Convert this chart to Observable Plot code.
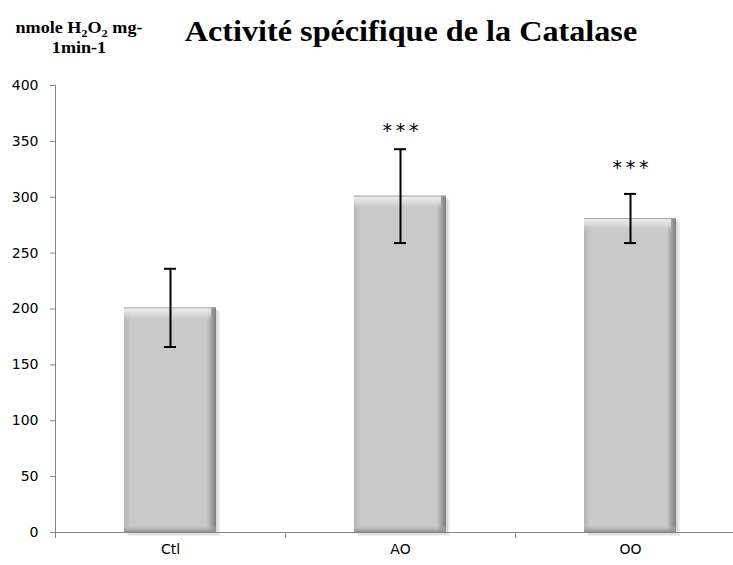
<!DOCTYPE html>
<html><head><meta charset="utf-8">
<script src="https://cdn.jsdelivr.net/npm/d3@7"></script>
<script src="https://cdn.jsdelivr.net/npm/@observablehq/plot@0.6"></script>
<style>
body{margin:0;background:#fff;}
#wrap{position:relative;width:733px;height:565px;overflow:hidden;background:#fff;}
#title{position:absolute;left:411px;top:15px;transform:translateX(-50%) scaleX(1.11);white-space:nowrap;
  font-family:"Liberation Serif","Times New Roman",serif;font-weight:bold;font-size:29px;color:#000;}
#ylab{position:absolute;left:79px;top:18px;transform:translateX(-50%) scaleX(1.13);white-space:nowrap;text-align:center;
  font-family:"Liberation Serif","Times New Roman",serif;font-weight:bold;font-size:16px;line-height:20px;color:#000;}
#ylab sub{font-size:11px;line-height:0;vertical-align:-4px;}
#chart{position:absolute;left:0;top:0;}
</style></head><body>
<div id="wrap">
<div id="chart"></div>
<div id="ylab">nmole H<sub>2</sub>O<sub>2</sub> mg-<br>1min-1</div>
<div id="title">Activité spécifique de la Catalase</div>
</div>
<script>
const categories = ["Ctl", "AO", "OO"];
const means = [201, 301, 281];
const errors = [35, 42, 22];
const stars = ["", "***", "***"];
const starValues = [null, 359, 326];
const yTicks = [0, 50, 100, 150, 200, 250, 300, 350, 400];

const data = categories.map((c, i) => ({
  cat: c, value: means[i], err: errors[i], star: stars[i], starY: starValues[i]
}));

const gray = "#868686";
const half = 115; // half band step in px

const svg = Plot.plot({
  width: 733,
  height: 565,
  marginTop: 85,
  marginBottom: 33,
  marginLeft: 55,
  marginRight: 0,
  x: {domain: categories, range: [55, 745], paddingInner: 0.6, paddingOuter: 0.3},
  y: {domain: [0, 400], range: [532, 85]},
  style: {fontFamily: "'DejaVu Sans', sans-serif", background: "#fff"},
  marks: [
    // soft shadow
    Plot.barY(data, {x: "cat", y: "value", fill: "#000", fillOpacity: 0.08, dx: 4, dy: 4}),
    Plot.barY(data, {x: "cat", y: "value", fill: "#000", fillOpacity: 0.08, dx: 2, dy: 2}),
    // bar body
    Plot.barY(data, {x: "cat", y: "value", fill: "url(#barBody)"}),
    // top bevel
    Plot.barY(data, {x: "cat", y1: "value", y2: "value", insetBottom: -14, insetRight: 5, fill: "url(#barTop)"}),
    // top edge line
    Plot.tickY(data, {x: "cat", y: "value", stroke: "#a8a8a8", strokeWidth: 1}),
    // bottom bevel
    Plot.barY(data, {x: "cat", y1: 0, y2: 0, insetTop: -7, fill: "url(#barBottom)"}),
    // axes lines
    Plot.ruleY([0], {stroke: gray, strokeWidth: 1}),
    Plot.ruleX(categories.slice(0, 1), {x: d => d, dx: -half, y1: 0, y2: 400, stroke: gray}),
    Plot.ruleX(categories, {x: d => d, dx: -half, y1: 0, y2: 0, insetBottom: -6, stroke: gray}),
    // error bars
    Plot.ruleX(data, {x: "cat", y1: d => d.value - d.err, y2: d => d.value + d.err, stroke: "#000", strokeWidth: 2}),
    Plot.tickY(data, {x: "cat", y: d => d.value + d.err, stroke: "#000", strokeWidth: 2, insetLeft: 40, insetRight: 40}),
    Plot.tickY(data, {x: "cat", y: d => d.value - d.err, stroke: "#000", strokeWidth: 2, insetLeft: 40, insetRight: 40}),
    // stars
    Plot.text(data.filter(d => d.starY != null), {x: "cat", y: "starY", text: d => d.star.split("").join("\u2009"), fontSize: 19, fill: "#000", fontFamily: "'DejaVu Sans', sans-serif"}),
    // axes
    Plot.axisY({ticks: yTicks, tickSize: 5, tickPadding: 12, stroke: gray, fill: "#000", fontSize: 14, label: null}),
    Plot.axisX({tickSize: 0, tickPadding: 12, fill: "#000", fontSize: 14, label: null})
  ]
});

const defs = d3.select(svg).insert("defs", ":first-child");
const gBody = defs.append("linearGradient").attr("id", "barBody").attr("x1", 0).attr("x2", 1).attr("y1", 0).attr("y2", 0);
[[0, "#b4b4b4"], [0.07, "#c9c9c9"], [0.9, "#c9c9c9"], [0.96, "#9a9a9a"], [1, "#7c7c7c"]]
  .forEach(([o, c]) => gBody.append("stop").attr("offset", o).attr("stop-color", c));
const gTop = defs.append("linearGradient").attr("id", "barTop").attr("x1", 0).attr("x2", 0).attr("y1", 0).attr("y2", 1);
[[0, "#f2f2f2", 1], [0.5, "#dedede", 0.8], [1, "#c9c9c9", 0]]
  .forEach(([o, c, a]) => gTop.append("stop").attr("offset", o).attr("stop-color", c).attr("stop-opacity", a));
const gBot = defs.append("linearGradient").attr("id", "barBottom").attr("x1", 0).attr("x2", 0).attr("y1", 0).attr("y2", 1);
[[0, "#c9c9c9", 0], [1, "#8c8c8c", 1]]
  .forEach(([o, c, a]) => gBot.append("stop").attr("offset", o).attr("stop-color", c).attr("stop-opacity", a));

document.getElementById("chart").appendChild(svg);
</script>
</body></html>
